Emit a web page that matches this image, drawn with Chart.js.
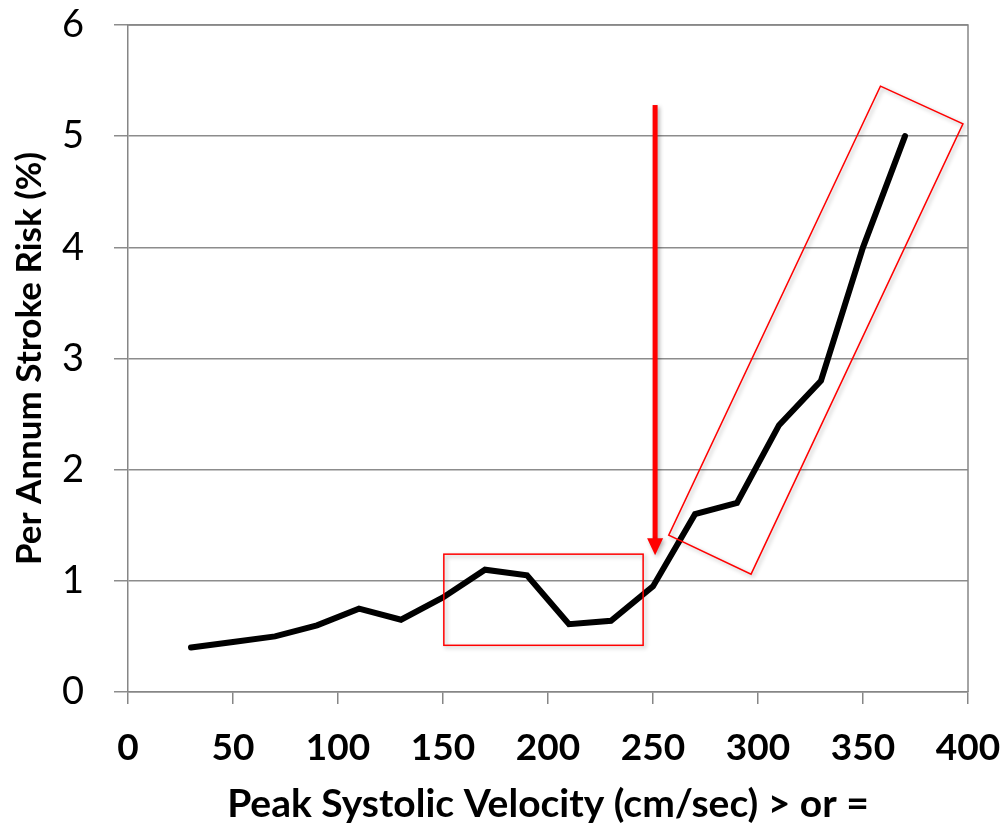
<!DOCTYPE html>
<html>
<head>
<meta charset="utf-8">
<script src="https://cdn.jsdelivr.net/npm/chart.js@4"></script>
<style>
  html, body { margin: 0; padding: 0; background: #fff; }
  #wrap { width: 1006px; height: 828px; }
</style>
</head>
<body>
<div id="wrap"><canvas id="chart" width="1006" height="828"></canvas></div>
<script>
// ================================
// DATA
// ================================
const velocity = [30, 50, 70, 90, 110, 130, 150, 170, 190, 210, 230, 250, 270, 290, 310, 330, 350, 370];
const strokeRisk = [0.40, 0.45, 0.50, 0.60, 0.75, 0.65, 0.85, 1.10, 1.05, 0.61, 0.64, 0.95, 1.60, 1.70, 2.40, 2.80, 4.00, 5.00];

// annotation shapes, in data units (x = cm/sec, y = %)
const plateauBox = [[150.4, 1.24], [245.3, 0.42]];
const riseBox = [[358.3, 5.45], [397.6, 5.11], [296.7, 1.06], [257.5, 1.41]];
const arrowLine = [[251, 5.28], [251, 1.23]];

// ================================
// ANNOTATIONS PLUGIN
// ================================
const annotations = {
    id: "annotations",
    afterDatasetsDraw(chart) {
        const ctx = chart.ctx;
        const xs = chart.scales.x, ys = chart.scales.y;
        const px = p => [xs.getPixelForValue(p[0]), ys.getPixelForValue(p[1])];

        // plot border
        const a = chart.chartArea;
        ctx.save();
        ctx.strokeStyle = "#868686";
        ctx.lineWidth = 1.5;
        ctx.beginPath();
        ctx.moveTo(a.left, a.top);
        ctx.lineTo(a.right, a.top);
        ctx.lineTo(a.right, a.bottom);
        ctx.stroke();
        ctx.restore();

        ctx.save();
        ctx.shadowColor = "rgba(0,0,0,0.3)";
        ctx.shadowBlur = 4;
        ctx.shadowOffsetX = 2;
        ctx.shadowOffsetY = 2;
        ctx.strokeStyle = "#ff0000";
        ctx.lineWidth = 1.5;

        const b0 = px(plateauBox[0]), b1 = px(plateauBox[1]);
        ctx.strokeRect(b0[0], b0[1], b1[0] - b0[0], b1[1] - b0[1]);

        ctx.beginPath();
        riseBox.forEach((p, i) => {
            const q = px(p);
            if (i === 0) ctx.moveTo(q[0], q[1]); else ctx.lineTo(q[0], q[1]);
        });
        ctx.closePath();
        ctx.stroke();

        // arrow
        const t = px(arrowLine[0]), h = px(arrowLine[1]);
        ctx.fillStyle = "#ff0000";
        ctx.fillRect(t[0] - 2.5, t[1], 5, h[1] - t[1] - 14);
        ctx.beginPath();
        ctx.moveTo(h[0] - 8, h[1] - 17);
        ctx.lineTo(h[0] + 8, h[1] - 17);
        ctx.lineTo(h[0], h[1]);
        ctx.closePath();
        ctx.fill();
        ctx.restore();
    }
};

// ================================
// PLOT LINE CHART
// ================================
const ctx = document.getElementById("chart").getContext("2d");

new Chart(ctx, {
    type: "line",
    data: {
        datasets: [{
            data: velocity.map((v, i) => ({ x: v, y: strokeRisk[i] })),
            borderColor: "#000000",
            borderWidth: 6,
            borderCapStyle: "round",
            pointRadius: 0,
            tension: 0
        }]
    },
    options: {
        responsive: false,
        animation: false,
        layout: { padding: { top: 25, right: 38, left: 0, bottom: 0 } },
        plugins: {
            legend: { display: false },
            tooltip: { enabled: false }
        },
        scales: {
            x: {
                type: "linear",
                min: 0,
                max: 400,
                ticks: {
                    stepSize: 50,
                    color: "#000",
                    padding: 22,
                    font: { family: "Lato", size: 37, weight: "bold" }
                },
                grid: { drawOnChartArea: false, color: "#868686", tickLength: 12, lineWidth: 1.5 },
                border: { color: "#868686", width: 1.5 },
                title: {
                    display: true,
                    text: "Peak Systolic Velocity (cm/sec) > or =",
                    color: "#000",
                    font: { family: "Lato", size: 39, weight: "bold" },
                    padding: { top: 0, bottom: 0 }
                },
                afterFit(scale) {
                    scale.height = 828 - 692;
                    scale.paddingLeft = 0;
                    scale.paddingRight = 0;
                }
            },
            y: {
                min: 0,
                max: 6,
                ticks: {
                    stepSize: 1,
                    color: "#000",
                    padding: 30,
                    font: { family: "Lato", size: 38 }
                },
                grid: { color: "#8c8c8c", tickLength: 14, lineWidth: 1.5 },
                border: { color: "#868686", width: 1.5 },
                title: {
                    display: true,
                    text: "Per Annum Stroke Risk (%)",
                    color: "#000",
                    font: { family: "Lato", size: 35, weight: "bold" },
                    padding: { top: 9, bottom: 0 }
                },
                afterFit(scale) {
                    scale.width = 128;
                    scale.paddingTop = 0;
                    scale.paddingBottom = 0;
                }
            }
        }
    },
    plugins: [annotations]
});
</script>
</body>
</html>
